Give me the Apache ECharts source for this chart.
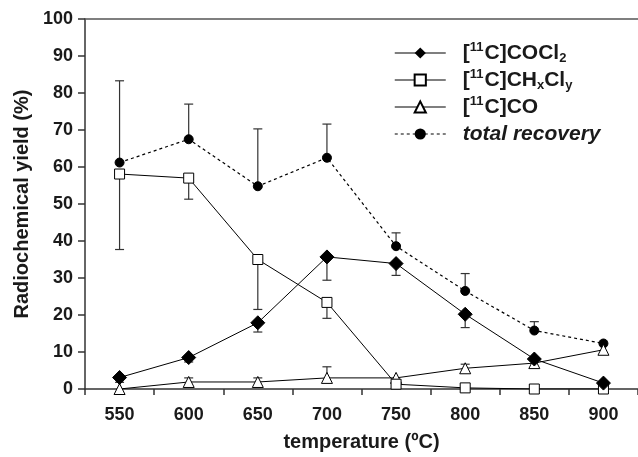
<!DOCTYPE html>
<html>
<head>
<meta charset="utf-8">
<script src="https://cdn.jsdelivr.net/npm/echarts@6/dist/echarts.min.js"></script>
<style>html,body{margin:0;padding:0;background:#fff}#c{width:638px;height:457px}</style>
</head>
<body>
<div id="c"></div>
<script>
const categories = ['550', '600', '650', '700', '750', '800', '850', '900'];
const cocl2 = [3.1, 8.5, 17.9, 35.7, 33.9, 20.2, 8.1, 1.6];
const chxcly = [58.1, 57.0, 35.0, 23.4, 1.3, 0.3, 0, 0];
const co = [0, 1.9, 1.9, 3.0, 3.0, 5.6, 7.0, 10.6];
const total = [61.2, 67.5, 54.8, 62.5, 38.6, 26.5, 15.8, 12.3];
// error bars: [category index, from value, to value]
const cocl2Err = [[0, 3.1, 1.8], [1, 8.5, 7.3], [2, 17.9, 15.4], [3, 35.7, 29.4], [4, 33.9, 30.7], [5, 20.2, 16.6], [6, 8.1, 5.8]];
const chxclyErr = [[0, 58.1, 37.7], [1, 57.0, 51.3], [2, 35.0, 21.5], [3, 23.4, 19.1]];
const coErr = [[1, 1.9, 3.0], [2, 1.9, 3.0], [3, 3.0, 6.0], [5, 5.6, 6.7]];
const totalErr = [[0, 61.2, 83.3], [1, 67.5, 77.0], [2, 54.8, 70.3], [3, 62.5, 71.6], [4, 38.6, 42.2], [5, 26.5, 31.2], [6, 15.8, 18.2]];

const FONT = '"Liberation Sans", Arial, sans-serif';
const TXT = '#1a1a1a';

function errSeries(data) {
  return {
    type: 'custom',
    silent: true,
    z: 1,
    data: data,
    renderItem: function (params, api) {
      const x = api.value(0);
      const p0 = api.coord([x, api.value(1)]);
      const p1 = api.coord([x, api.value(2)]);
      const hw = 4.5;
      return {
        type: 'group',
        children: [
          { type: 'line', shape: { x1: p0[0], y1: p0[1], x2: p1[0], y2: p1[1] }, style: { stroke: '#333', lineWidth: 1.2 } },
          { type: 'line', shape: { x1: p1[0] - hw, y1: p1[1], x2: p1[0] + hw, y2: p1[1] }, style: { stroke: '#333', lineWidth: 1.2 } }
        ]
      };
    }
  };
}

const legendNames = {
  'COCl2': '[{sup|11}C]COCl{sub|2}',
  'CHxCly': '[{sup|11}C]CH{sub|x}Cl{sub|y}',
  'CO': '[{sup|11}C]CO',
  'total recovery': '{it|total recovery}'
};

const chart = echarts.init(document.getElementById('c'), null, { renderer: 'canvas' });
chart.setOption({
  animation: false,
  backgroundColor: '#fff',
  grid: { left: 85, right: 0, top: 19, bottom: 66 },
  legend: {
    data: ['COCl2', 'CHxCly', 'CO', 'total recovery'],
    orient: 'vertical',
    left: 389,
    top: 36,
    itemWidth: 51,
    itemHeight: 14,
    itemGap: 3,
    lineStyle: { color: '#555', width: 1.5 },
    formatter: function (n) { return legendNames[n]; },
    textStyle: {
      fontFamily: FONT, fontWeight: 'bold', fontSize: 21, color: TXT,
      padding: [0, 0, 0, 12],
      lineHeight: 24,
      rich: {
        sup: { fontFamily: FONT, fontWeight: 'bold', fontSize: 13, color: TXT, verticalAlign: 'top', lineHeight: 24, padding: [0, 1, 0, 0] },
        sub: { fontFamily: FONT, fontWeight: 'bold', fontSize: 13, color: TXT, verticalAlign: 'bottom', lineHeight: 18, padding: [10, 0, 0, 0] },
        it: { fontFamily: FONT, fontWeight: 'bold', fontStyle: 'italic', fontSize: 21, color: TXT, lineHeight: 24 }
      }
    }
  },
  xAxis: [{
    type: 'category',
    data: categories,
    boundaryGap: true,
    name: 'temperature (ºC)',
    nameLocation: 'middle',
    nameGap: 43,
    nameTextStyle: { fontFamily: FONT, fontWeight: 'bold', fontSize: 20, color: TXT },
    axisLine: { lineStyle: { color: '#333', width: 1.5 } },
    axisTick: { show: true, length: 6, inside: false, lineStyle: { color: '#333', width: 1.5 } },
    axisLabel: { fontFamily: FONT, fontWeight: 'bold', fontSize: 18, color: TXT, margin: 17 },
    splitLine: { show: false }
  }, {
    type: 'category',
    data: categories,
    position: 'top',
    axisLine: { lineStyle: { color: '#555', width: 1.5 } },
    axisTick: { show: false },
    axisLabel: { show: false }
  }],
  yAxis: {
    type: 'value',
    min: 0, max: 100, interval: 10,
    name: 'Radiochemical yield (%)',
    nameLocation: 'middle',
    nameGap: 53,
    nameTextStyle: { fontFamily: FONT, fontWeight: 'bold', fontSize: 20, color: TXT },
    axisLine: { show: true, lineStyle: { color: '#333', width: 1.5 } },
    axisTick: { show: true, length: 7, lineStyle: { color: '#333', width: 1.5 } },
    axisLabel: { fontFamily: FONT, fontWeight: 'bold', fontSize: 18, color: TXT, margin: 12 },
    splitLine: { show: false }
  },
  series: [
    errSeries(totalErr),
    errSeries(cocl2Err),
    errSeries(chxclyErr),
    errSeries(coErr),
    {
      name: 'total recovery', type: 'line', data: total, z: 3,
      symbol: 'circle', symbolSize: 9,
      lineStyle: { color: '#000', width: 1.2, type: [3, 3] },
      itemStyle: { color: '#000', borderColor: '#000' }
    },
    {
      name: 'CO', type: 'line', data: co, z: 3,
      symbol: 'triangle', symbolSize: 11,
      lineStyle: { color: '#000', width: 1 },
      itemStyle: { color: '#fff', borderColor: '#000', borderWidth: 1 }
    },
    {
      name: 'CHxCly', type: 'line', data: chxcly, z: 3,
      symbol: 'rect', symbolSize: 10,
      lineStyle: { color: '#000', width: 1 },
      itemStyle: { color: '#fff', borderColor: '#000', borderWidth: 1 }
    },
    {
      name: 'COCl2', type: 'line', data: cocl2, z: 4,
      symbol: 'diamond', symbolSize: 14,
      lineStyle: { color: '#000', width: 1 },
      itemStyle: { color: '#000', borderColor: '#000' }
    }
  ]
});
</script>
</body>
</html>
